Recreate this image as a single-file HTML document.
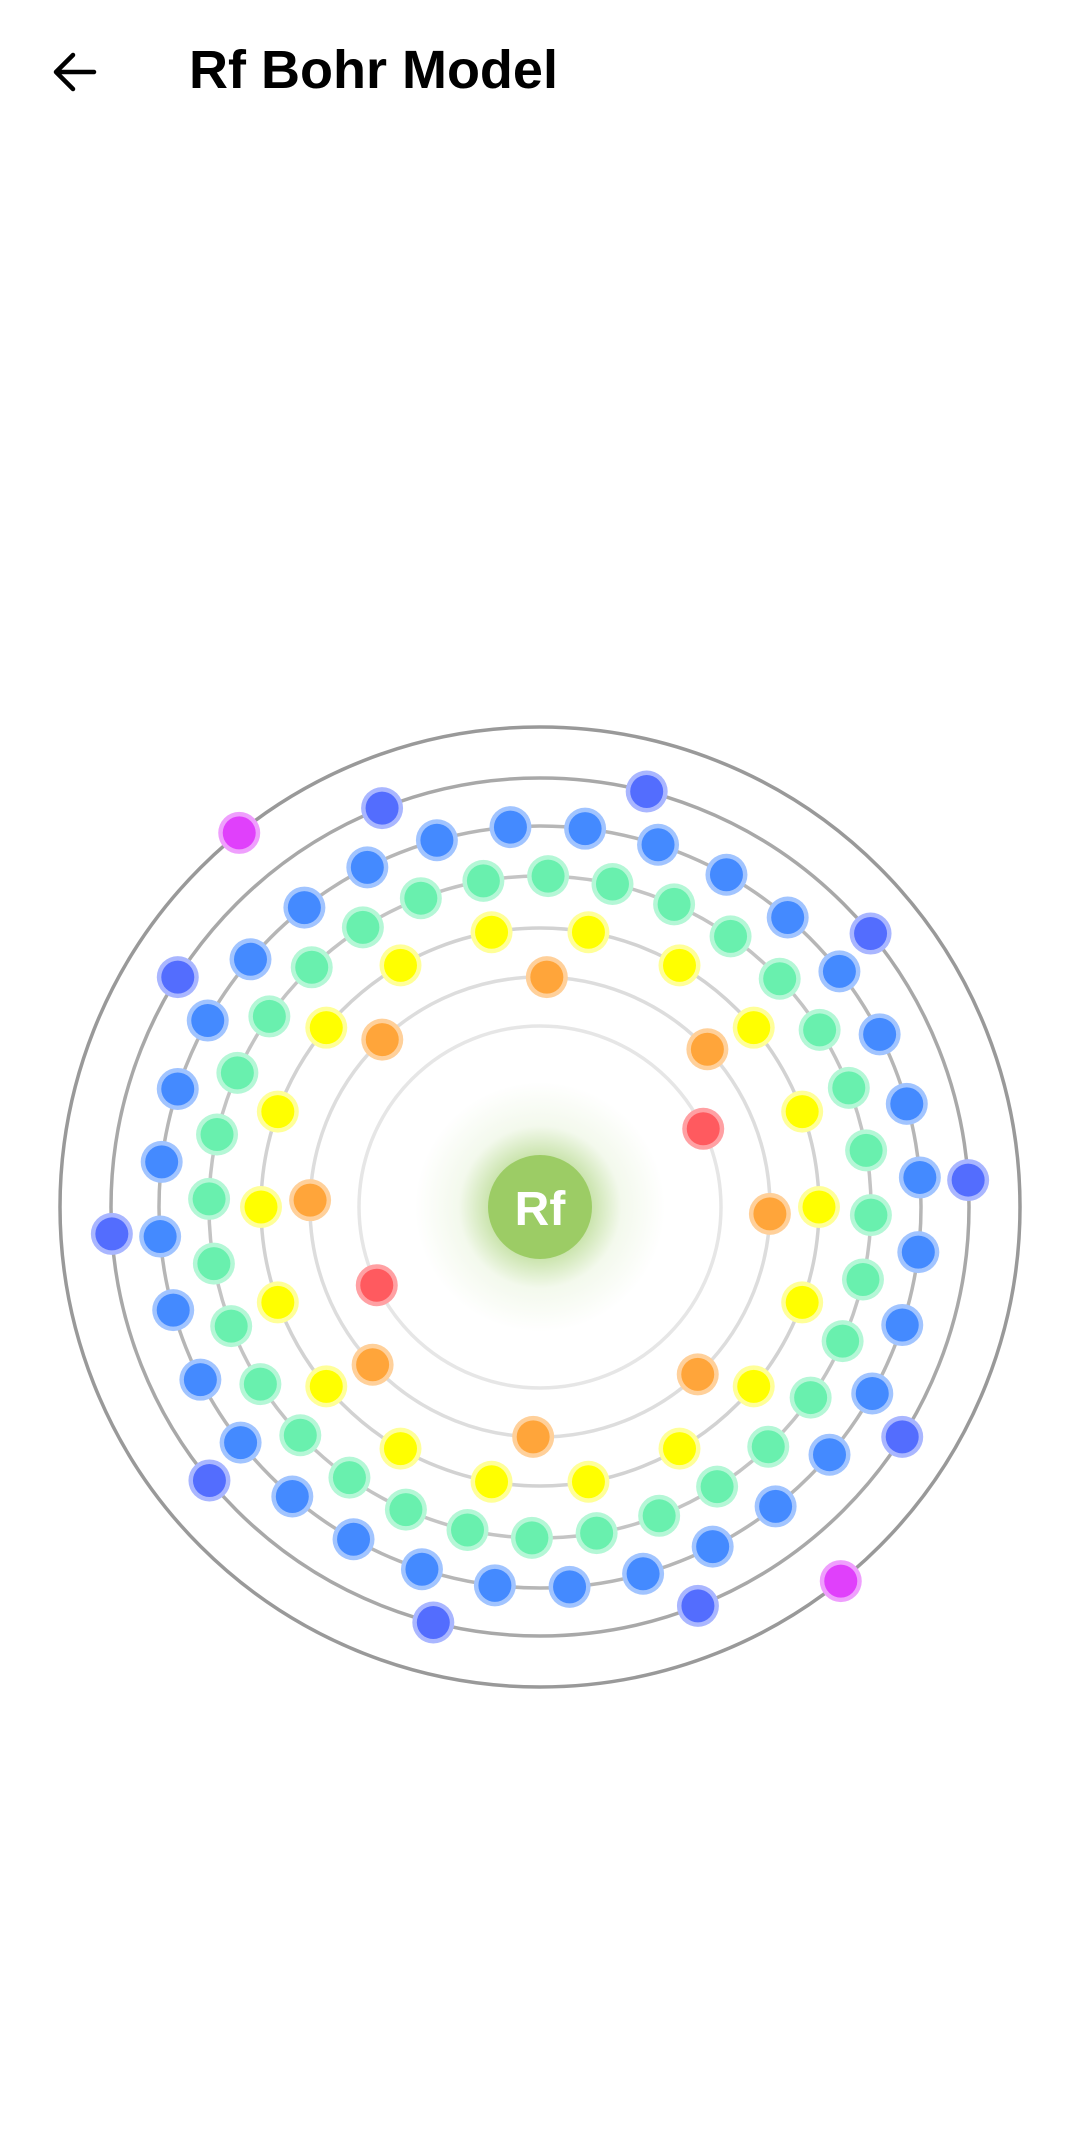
<!DOCTYPE html>
<html><head><meta charset="utf-8"><style>
html,body{margin:0;padding:0;background:#fff;width:1080px;height:2140px;overflow:hidden;font-family:"Liberation Sans",sans-serif}
</style></head><body>
<svg id="s" width="1080" height="2140" viewBox="0 0 1080 2140" xmlns="http://www.w3.org/2000/svg">
<defs>
<radialGradient id="glow" cx="0.5" cy="0.5" r="0.5">
<stop offset="0.4" stop-color="#9ccc65" stop-opacity="0.55"/>
<stop offset="0.65" stop-color="#9ccc65" stop-opacity="0.12"/>
<stop offset="1" stop-color="#9ccc65" stop-opacity="0"/>
</radialGradient>
</defs>
<g stroke="#000" stroke-width="4.5" fill="none" stroke-linecap="round" stroke-linejoin="round">
<path d="M56 72 H94 M56 72 L73 55 M56 72 L73 89"/>
</g>
<text x="189" y="88" font-size="54" font-weight="bold" fill="#000">Rf Bohr Model</text>
<circle cx="540" cy="1207" r="125" fill="url(#glow)"/>
<g id="orb" fill="none"></g>
<g id="el"></g>
<circle cx="540" cy="1207" r="52" fill="#9ccc65"/>
<text x="540" y="1225" font-size="48" font-weight="bold" fill="#fff" text-anchor="middle">Rf</text>
</svg>
<script>
var cx=540,cy=1207,ns="http://www.w3.org/2000/svg";
var shells=[[181,2,-25.6,"#ff5a5f","#ffa0a3","#e6e6e6"],[230,8,-88.3,"#ffa53a","#ffd09a","#dddddd"],[279,18,-80,"#ffff00","#ffff99","#d2d2d2"],[331,32,-88.6,"#69f0ae","#b4f7d6","#c4c4c4"],[381,32,-83.2,"#448aff","#a1c4ff","#b6b6b6"],[429,10,-75.6,"#536dfe","#a9b6ff","#a8a8a8"],[480,2,-128.8,"#e040fb","#ef9ffd","#999999"]];
var orb=document.getElementById("orb"),el=document.getElementById("el");
shells.forEach(function(s){
 var c=document.createElementNS(ns,"circle");c.setAttribute("cx",cx);c.setAttribute("cy",cy);c.setAttribute("r",s[0]);c.setAttribute("stroke",s[5]);c.setAttribute("stroke-width","3.5");orb.appendChild(c);
 for(var i=0;i<s[1];i++){var a=(s[2]+360*i/s[1])*Math.PI/180;var x=cx+s[0]*Math.cos(a),y=cy+s[0]*Math.sin(a);
  var h=document.createElementNS(ns,"circle");h.setAttribute("cx",x);h.setAttribute("cy",y);h.setAttribute("r",21);h.setAttribute("fill",s[4]);el.appendChild(h);
  var e=document.createElementNS(ns,"circle");e.setAttribute("cx",x);e.setAttribute("cy",y);e.setAttribute("r",16.5);e.setAttribute("fill",s[3]);el.appendChild(e);}
});
</script>
</body></html>
